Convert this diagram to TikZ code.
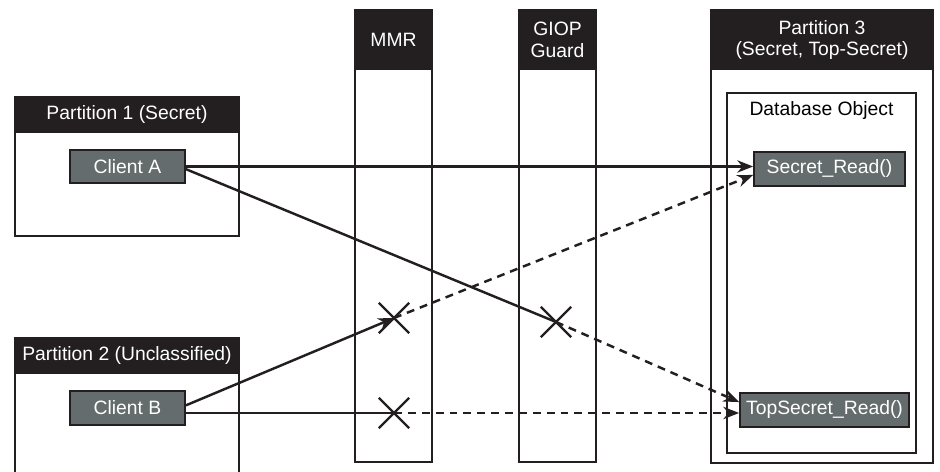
\documentclass[tikz,border=0pt]{standalone}
\usepackage{fontspec}
\setmainfont{Liberation Sans}
\usepackage{tikz}
\usetikzlibrary{arrows.meta, fit, shapes.misc}
\definecolor{hdr}{HTML}{231F20}
\definecolor{procgray}{HTML}{656C6D}

\begin{document}
\begin{tikzpicture}[x=0.02cm, y=-0.02cm,
    every node/.style={font=\fontsize{11}{12.5}\selectfont},
    every label/.style={inner sep=0pt, align=center},
    part/.style={draw=hdr, line width=1.1pt, inner sep=0pt},
    head/.style={fill=hdr, inner sep=0pt, label={[text=white]center:#1}},
    proc/.style={draw=hdr, fill=procgray, line width=1pt, inner sep=0pt,
        label={[text=white]center:#1}},
    xmark/.style={cross out, draw=hdr, line width=1.4pt, minimum size=28*0.02cm},
    flow/.style={draw=hdr, line width=1.4pt},
    blocked/.style={draw=hdr, line width=1.4pt, dash pattern=on 4.5pt off 3.4pt},
    tip/.style={-{Stealth[length=9pt, width=7pt]}}]
        \useasboundingbox (0,0) rectangle (940,472);
        % Partitions on the left
        \node [part, fit={(15,97) (239,236)}] (P1) {};
        \node [head={Partition 1 (Secret)}, fit={(15,97) (239,133)}] (P1h) {};
        \node [part, fit={(15,338) (239,490)}] (P2) {};
        \node [head={Partition 2 (Unclassified)}, fit={(15,338) (239,374)}] (P2h) {};
        % Clients
        \node [proc={Client A}, fit={(70,150) (185,183)}] (ClientA) {};
        \node [proc={Client B}, fit={(70,391) (185,425)}] (ClientB) {};
        % MMR and guard columns
        \node [part, fit={(355,10) (432,462)}] (MMR) {};
        \node [head={MMR}, fit={(355,10) (432,70)}] (MMRh) {};
        \node [part, fit={(519,10) (596,462)}] (Guard) {};
        \node [head={GIOP\\Guard}, fit={(519,10) (596,70)}] (Guardh) {};
        % Partition 3 with the database object
        \node [part, fit={(711,10) (933,463)}] (P3) {};
        \node [head={Partition 3\\(Secret, Top-Secret)}, fit={(711,10) (933,70)}] (P3h) {};
        \node [part, fit={(727,93) (916,453)}] (DB) {};
        \node [anchor=north, inner sep=5pt] (DBlabel) at (DB.north) {Database Object};
        \node [proc={Secret\_Read()}, fit={(754,152) (905,186)}] (SecretRead) {};
        \node [proc={TopSecret\_Read()}, fit={(740,393) (909,427)}] (TopSecretRead) {};
        % Blocked calls
        \node [xmark] (xB1) at (394,318) {};
        \node [xmark] (xB2) at (394,413) {};
        \node [xmark] (xA) at (556,322) {};
        % Calls from Client A
        \draw [flow, tip] (ClientA.east) -- (SecretRead.west |- ClientA.east);
        \draw [flow] ([yshift=-1.5pt]ClientA.east) -- (xA.center);
        \draw [blocked, tip] (xA.center) -- ([yshift=4.5pt]TopSecretRead.west);
        % Calls from Client B
        \draw [flow, tip] ([yshift=1.5pt]ClientB.east) -- (xB1.center);
        \draw [blocked, tip] (xB1.center) -- ([yshift=-3.4pt]SecretRead.west);
        \draw [flow] (ClientB.east |- xB2) -- (xB2.center);
        \draw [blocked, tip] (xB2.center) -- (TopSecretRead.west |- xB2);
\end{tikzpicture}
\end{document}
